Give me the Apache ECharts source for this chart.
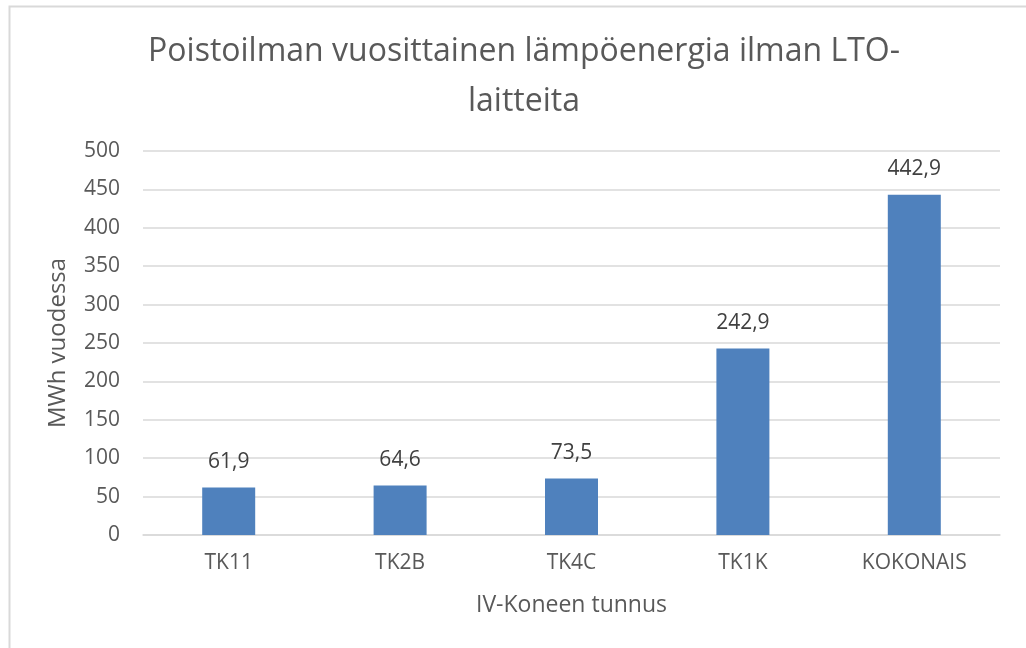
<!DOCTYPE html>
<html><head><meta charset="utf-8">
<script src="https://cdn.jsdelivr.net/npm/echarts@6/dist/echarts.min.js"></script>
<style>html,body{margin:0;padding:0;background:#fff}#c{width:1026px;height:648px}</style>
</head><body><div id="c"></div>
<script>
const categories = ['TK11', 'TK2B', 'TK4C', 'TK1K', 'KOKONAIS'];
const values = [61.9, 64.6, 73.5, 242.9, 442.9];
const yTicks = [0, 50, 100, 150, 200, 250, 300, 350, 400, 450, 500];

const chart = echarts.init(document.getElementById('c'));
const font = 'Open Sans';
chart.setOption({
  animation: false,
  graphic: [{
    type: 'rect', shape: {x: 9.5, y: 6.5, width: 1200, height: 1000},
    style: {fill: 'none', stroke: '#d9d9d9', lineWidth: 2}, silent: true, z: -1
  }],
  title: {
    text: 'Poistoilman vuosittainen lämpöenergia ilman LTO-\nlaitteita',
    left: 519, top: 22, textAlign: 'center',
    textStyle: {fontFamily: font, fontWeight: 'normal', fontSize: 32, color: '#595959', lineHeight: 50}
  },
  grid: {left: 143, right: 26, top: 151, bottom: 113, containLabel: false},
  xAxis: {
    type: 'category', data: categories,
    name: 'IV-Koneen tunnus', nameLocation: 'middle', nameGap: 59,
    nameTextStyle: {fontFamily: font, fontSize: 23, color: '#595959'},
    axisLine: {lineStyle: {color: '#d9d9d9', width: 1.5}},
    axisTick: {show: false},
    axisLabel: {fontFamily: font, fontSize: 21, color: '#595959', margin: 18}
  },
  yAxis: {
    type: 'value', min: yTicks[0], max: yTicks[yTicks.length - 1], interval: 50,
    name: 'MWh vuodessa', nameLocation: 'middle', nameGap: 73, nameRotate: 90,
    nameTextStyle: {fontFamily: font, fontSize: 24, color: '#595959'},
    axisLine: {show: false}, axisTick: {show: false},
    splitLine: {lineStyle: {color: '#d9d9d9', width: 1.5}},
    axisLabel: {fontFamily: font, fontSize: 21, color: '#595959', margin: 23}
  },
  series: [{
    type: 'bar', data: values, barWidth: 53,
    itemStyle: {color: '#4f81bd'},
    label: {
      show: true, position: 'top', distance: 15,
      fontFamily: font, fontSize: 21, color: '#404040',
      formatter: p => p.value.toFixed(1).replace('.', ',')
    }
  }]
});
</script></body></html>
